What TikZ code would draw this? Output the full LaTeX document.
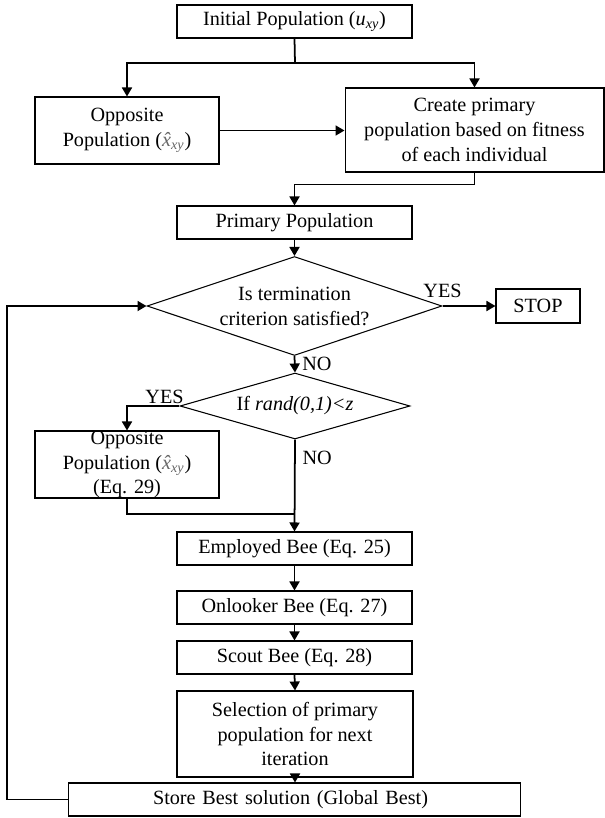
\documentclass[tikz,border=0pt]{standalone}
\usepackage{fontspec}
\setmainfont{Liberation Serif}
\usetikzlibrary{shapes.geometric,arrows.meta}
\begin{document}
\begin{tikzpicture}[x=0.02cm, y=-0.02cm,
  box/.style={draw, line width=0.6pt, inner sep=0pt, align=center, font=\fontsize{11.5}{14.2}\selectfont},
  decide/.style={box, diamond, inner sep=-3pt},
  lbl/.style={inner sep=1pt, font=\fontsize{11.5}{14.2}\selectfont},
  flow/.style={line width=1pt, -{Triangle[length=0.18cm,width=0.2cm]}},
  wire/.style={line width=1pt}]
\useasboundingbox (0,0) rectangle (605,818);
\node[box, minimum width=4.7cm, minimum height=0.66cm] (init) at (294.5,21.5){Initial Population (\textit{u}\textsubscript{\textit{xy}})};
\node[box, minimum width=3.68cm, minimum height=1.34cm] (opp1) at (127,130.5){Opposite\\Population ({\color{black!60}\textit{\accent"02C6 x}\textsubscript{\textit{xy}}})};
\node[box, minimum width=5.18cm, minimum height=1.68cm] (create) at (474.5,130){Create primary\\population based on fitness\\of each individual};
\node[box, minimum width=4.7cm, minimum height=0.66cm] (prim) at (294.5,222.5){Primary Population};
\node[decide, aspect=3, minimum width=5.9cm, minimum height=1.98cm] (dia1) at (294.5,306){Is termination\\criterion satisfied?};
\node[box, minimum width=1.68cm, minimum height=0.68cm] (stop) at (538,306){STOP};
\node[decide, aspect=3.5, minimum width=4.6cm, minimum height=1.32cm] (dia2) at (295,406){If \textit{rand(0,1)<z}};
\node[box, minimum width=3.68cm, minimum height=1.34cm, inner ysep=-1pt] (opp2) at (127,464.5){Opposite\\Population ({\color{black!60}\textit{\accent"02C6 x}\textsubscript{\textit{xy}}})\\(Eq. 29)};
\node[box, minimum width=4.7cm, minimum height=0.66cm] (emp) at (294.5,548.5){Employed Bee (Eq. 25)};
\node[box, minimum width=4.7cm, minimum height=0.66cm] (onl) at (294.5,607.5){Onlooker Bee (Eq. 27)};
\node[box, minimum width=4.7cm, minimum height=0.66cm] (sco) at (294.5,657.5){Scout Bee (Eq. 28)};
\node[box, minimum width=4.72cm, minimum height=1.72cm] (sel) at (295,734){Selection of primary\\population for next\\iteration};
\node[box, minimum height=0.66cm, text width=9.06cm, align=left] (store) at (294.5,799.5){\hspace*{1.7cm}Store Best solution (Global Best)};
\node[lbl, above=0.12cm] (yes1) at (dia1.east){YES};
\node[lbl, anchor=south] (yes2) at ([xshift=-0.3cm]dia2.west){YES};
\coordinate (split) at (295,63);
\coordinate (join) at (295,514);
\coordinate (back) at (7,550);
\draw[wire] (init.south) -- (split);
\draw[flow] (split) -| (opp1.north);
\draw[flow] (split) -| (create.north);
\draw[flow] (opp1.east) -- (opp1.east -| create.west);
\draw[flow] (create.south) -- ++(0,12) -| (prim.north);
\draw[flow] (prim.south) -- (dia1.north);
\draw[flow] (dia1.east) -- (stop.west);
\draw[flow] (dia1.south) -- node[lbl, right=0.1cm] (no1){NO} (dia2.north);
\draw[flow] (dia2.west) -| (opp2.north);
\draw[flow] (dia2.south) -- node[lbl, right=0.1cm, pos=0.2] (no2){NO} (emp.north);
\draw[wire] (opp2.south) |- (join);
\draw[flow] (emp.south) -- (onl.north);
\draw[flow] (onl.south) -- (sco.north);
\draw[flow] (sco.south) -- (sel.north);
\draw[flow] (sel.south) -- (store.north -| sel.south);
\draw[flow] (store.west) -| (back) |- (dia1.west);
\end{tikzpicture}
\end{document}
